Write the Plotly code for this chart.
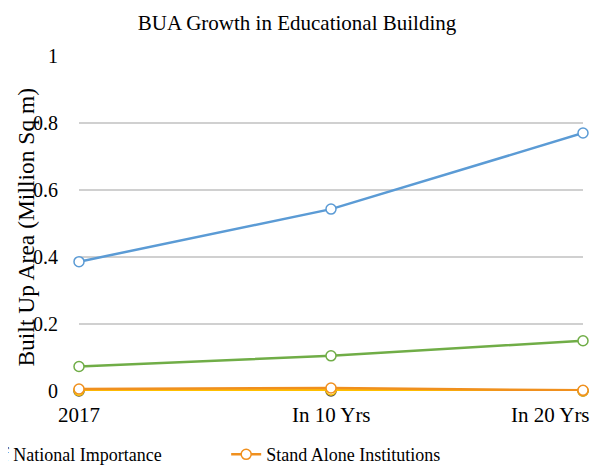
import plotly.graph_objects as go

categories = ["2017", "In 10 Yrs", "In 20 Yrs"]
tick_labels = ["2017", "In 10 Yrs", "In 20 Yrs"]

national_importance = [0.386, 0.543, 0.770]
stand_alone = [0.006, 0.009, 0.002]
series_green = [0.073, 0.105, 0.150]
series_yellow = [0.002, 0.003, 0.000]
series_dark = [0.000, 0.000, 0.000]

FONT = "Liberation Serif"

fig = go.Figure()

def add(name, ys, color, show, legend="legend"):
    fig.add_trace(go.Scatter(
        x=categories, y=ys, name=name, mode="lines+markers",
        line=dict(color=color, width=2.5),
        marker=dict(symbol="circle", size=10, color="white",
                    line=dict(color=color, width=1.5)),
        cliponaxis=False, showlegend=show, legend=legend,
    ))

add("Other Institutions", series_dark, "#4f4f3f", False)
add("Colleges", series_yellow, "#FFC000", False)
add("Universities", series_green, "#70AD47", False)
add("Institutes of National Importance", national_importance, "#5B9BD5", True, "legend")
add("Stand Alone Institutions", stand_alone, "#F0901E", True, "legend2")

leg_font = dict(family=FONT, size=18, color="black")

fig.update_layout(
    width=598, height=465,
    margin=dict(l=71, r=23, t=48, b=82, autoexpand=False),
    paper_bgcolor="white", plot_bgcolor="white",
    font=dict(family=FONT, color="black", size=21),
    title=dict(text="BUA Growth in Educational Building", x=289 / 598, xanchor="center",
               y=1 - 15 / 465, yanchor="middle", yref="container",
               font=dict(family=FONT, size=21, color="black")),
    xaxis=dict(type="category", range=[0, 2], showgrid=False, showline=False,
               zeroline=False, showticklabels=False, automargin=False),
    yaxis=dict(range=[0, 1], dtick=0.2, showgrid=True, gridcolor="#d0d0d0",
               gridwidth=1.5, zeroline=False, showline=False, automargin=False,
               ticks="outside", ticklen=16, tickcolor="rgba(0,0,0,0)",
               tickfont=dict(family=FONT, size=20, color="black")),
    legend=dict(orientation="h", x=0.175, xanchor="right", y=-0.19, yanchor="middle",
                font=leg_font, bgcolor="rgba(0,0,0,0)"),
    legend2=dict(orientation="h", x=0.292, xanchor="left", y=-0.19, yanchor="middle",
                 font=leg_font, bgcolor="rgba(0,0,0,0)"),
    showlegend=True,
)

# category tick labels (positioned like the source, last one kept inside the canvas)
anchors = ["center", "center", "right"]
shifts = [0, 0, 9]
for i, (lab, anc, sh) in enumerate(zip(tick_labels, anchors, shifts)):
    fig.add_annotation(x=i, xref="x", y=0, yref="y", yshift=-10, xshift=sh,
                       text=lab, showarrow=False, xanchor=anc, yanchor="top",
                       font=dict(family=FONT, size=21, color="black"))

fig.add_annotation(text="Built Up Area (Million Sq m)", textangle=-90,
                   xref="paper", x=-0.107, xanchor="center",
                   yref="paper", y=0.488, yanchor="middle", showarrow=False,
                   font=dict(family=FONT, size=23.5, color="black"))

fig.write_html("out.html")
